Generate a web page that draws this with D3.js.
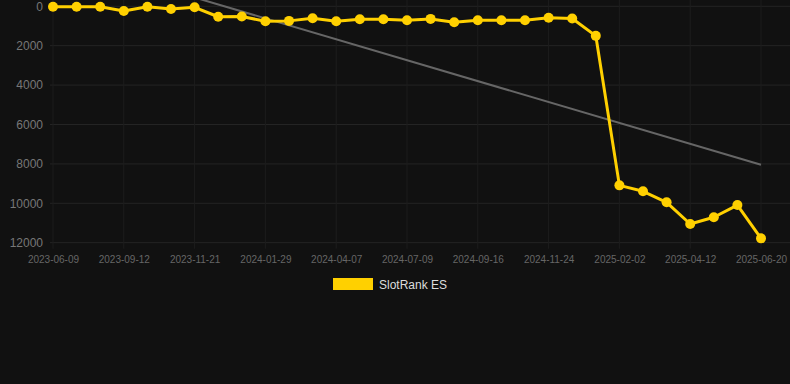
<!DOCTYPE html>
<html>
<head>
<meta charset="utf-8">
<script src="https://cdn.jsdelivr.net/npm/d3@7/dist/d3.min.js"></script>
<style>
  html, body { margin: 0; padding: 0; background: #111111; }
  svg { display: block; font-family: "Liberation Sans", Arial, Helvetica, sans-serif; }
</style>
</head>
<body>
<svg id="chart" width="790" height="384"></svg>
<script>
const dates = [
  '2023-06-09', '2023-07-10', '2023-08-11', '2023-09-12', '2023-10-05', '2023-10-28',
  '2023-11-21', '2023-12-14', '2024-01-06', '2024-01-29', '2024-02-21', '2024-03-15',
  '2024-04-07', '2024-05-08', '2024-06-08', '2024-07-09', '2024-08-01', '2024-08-24',
  '2024-09-16', '2024-10-09', '2024-11-01', '2024-11-24', '2024-12-17', '2025-01-09',
  '2025-02-02', '2025-02-25', '2025-03-20', '2025-04-12', '2025-05-05', '2025-05-28',
  '2025-06-20',
];
const rankES = [
  20, 20, 20, 240, 20, 140, 50, 530, 520, 760, 740, 610, 760, 660, 660, 710,
  640, 810, 710, 710, 710, 580, 620, 1500, 9090, 9390, 9950, 11050, 10710, 10090,
  11780,
];
const xTickLabels = [
  '2023-06-09', '2023-09-12', '2023-11-21', '2024-01-29', '2024-04-07', '2024-07-09',
  '2024-09-16', '2024-11-24', '2025-02-02', '2025-04-12', '2025-06-20',
];
const yTicks = [0, 2000, 4000, 6000, 8000, 10000, 12000];
const seriesName = 'SlotRank ES';

const width = 790;
const margin = { top: 6.3, right: 29, bottom: 141.3, left: 53 };
const height = 384;
const gold = '#ffd000';

const svg = d3.select('#chart');

const x = d3.scalePoint()
  .domain(dates)
  .range([margin.left, width - margin.right]);

const y = d3.scaleLinear()
  .domain([0, 12000])
  .range([margin.top, height - margin.bottom]);

// grid
svg.append('g')
  .selectAll('line')
  .data(yTicks)
  .join('line')
  .attr('x1', margin.left - 3)
  .attr('x2', width)
  .attr('y1', (d) => y(d))
  .attr('y2', (d) => y(d))
  .attr('stroke', '#242424')
  .attr('stroke-width', 1);

svg.append('g')
  .selectAll('line')
  .data(xTickLabels)
  .join('line')
  .attr('x1', (d) => x(d))
  .attr('x2', (d) => x(d))
  .attr('y1', 0)
  .attr('y2', y(12000) + 6)
  .attr('stroke', '#1d1d1d')
  .attr('stroke-width', 1);

// y axis
const yAxis = svg.append('g')
  .attr('transform', `translate(${margin.left - 10},0)`)
  .call(d3.axisLeft(y).tickValues(yTicks).tickFormat(d3.format('d')).tickSize(0).tickPadding(0));
yAxis.select('.domain').remove();
yAxis.selectAll('text')
  .attr('fill', '#777')
  .attr('font-size', 12)
  .attr('font-family', '"Liberation Sans", Arial, sans-serif');

// x axis
const xAxis = svg.append('g')
  .attr('transform', `translate(0,${y(12000) + 13})`)
  .call(d3.axisBottom(x).tickValues(xTickLabels).tickSize(0).tickPadding(0));
xAxis.select('.domain').remove();
xAxis.selectAll('text')
  .attr('fill', '#666')
  .attr('font-size', 10)
  .attr('font-family', '"Liberation Sans", Arial, sans-serif');

// trend line (least squares over the series)
const n = rankES.length;
const meanI = d3.mean(rankES, (_, i) => i);
const meanV = d3.mean(rankES);
const slope = d3.sum(rankES, (v, i) => (i - meanI) * (v - meanV))
  / d3.sum(rankES, (_, i) => (i - meanI) ** 2);
const trend = [0, n - 1].map((i) => ({ d: dates[i], v: meanV + slope * (i - meanI) }));

svg.append('clipPath')
  .attr('id', 'plot-clip')
  .append('rect')
  .attr('x', 0)
  .attr('y', 0)
  .attr('width', width)
  .attr('height', height);

svg.append('path')
  .datum(trend)
  .attr('clip-path', 'url(#plot-clip)')
  .attr('fill', 'none')
  .attr('stroke', '#666')
  .attr('stroke-width', 2)
  .attr('d', d3.line().x((p) => x(p.d)).y((p) => y(p.v)));

// series
const pts = dates.map((d, i) => ({ d, v: rankES[i] }));

svg.append('path')
  .datum(pts)
  .attr('fill', 'none')
  .attr('stroke', gold)
  .attr('stroke-width', 3)
  .attr('stroke-linejoin', 'round')
  .attr('d', d3.line().x((p) => x(p.d)).y((p) => y(p.v)));

svg.append('g')
  .selectAll('circle')
  .data(pts)
  .join('circle')
  .attr('cx', (p) => x(p.d))
  .attr('cy', (p) => y(p.v))
  .attr('r', 5)
  .attr('fill', gold);

// legend
const legend = svg.append('g');
const legendText = legend.append('text')
  .attr('x', 46)
  .attr('y', 289)
  .attr('fill', '#dddddd')
  .attr('font-size', 12)
  .text(seriesName);
const textW = legendText.node().getComputedTextLength();
legend.append('rect')
  .attr('x', 0)
  .attr('y', 278)
  .attr('width', 40)
  .attr('height', 12)
  .attr('fill', gold);
legend.attr('transform', `translate(${Math.round(width / 2 - (46 + textW) / 2) - 5},0)`);
</script>
</body>
</html>
